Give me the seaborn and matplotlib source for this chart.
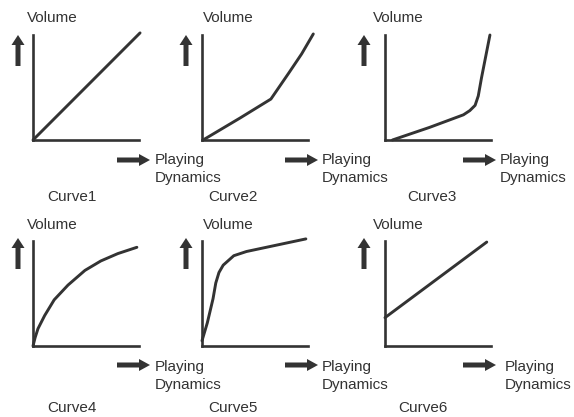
import matplotlib
matplotlib.use('Agg')
import matplotlib.pyplot as plt
import matplotlib.transforms as mtransforms
from matplotlib.patches import FancyArrow
import seaborn as sns
import pandas as pd

sns.set_theme(style='white')
plt.rcParams['font.family'] = ['Liberation Sans', 'DejaVu Sans']

# Curve data, normalised to the axis box (0..1)
curve_names = ['Curve1', 'Curve2', 'Curve3', 'Curve4', 'Curve5', 'Curve6']
curve1_x = [0.0, 1.01]
curve1_y = [0.0, 1.02]
curve2_x = [0.01, 0.36, 0.65, 0.82, 0.94, 1.05]
curve2_y = [0.0, 0.21, 0.39, 0.64, 0.82, 1.01]
curve3_x = [0.07, 0.42, 0.74, 0.80, 0.85, 0.88, 0.91, 0.99]
curve3_y = [0.0, 0.12, 0.24, 0.28, 0.33, 0.42, 0.59, 1.0]
curve4_x = [0.0, 0.02, 0.047, 0.11, 0.2, 0.33, 0.49, 0.64, 0.8, 0.98]
curve4_y = [0.0, 0.08, 0.165, 0.29, 0.44, 0.58, 0.72, 0.81, 0.88, 0.94]
curve5_x = [0.0, 0.05, 0.104, 0.13, 0.16, 0.2, 0.3, 0.42, 0.98]
curve5_y = [0.05, 0.22, 0.45, 0.60, 0.70, 0.77, 0.86, 0.90, 1.02]
curve6_x = [0.0, 0.96]
curve6_y = [0.27, 0.99]
curves_x = [curve1_x, curve2_x, curve3_x, curve4_x, curve5_x, curve6_x]
curves_y = [curve1_y, curve2_y, curve3_y, curve4_y, curve5_y, curve6_y]

y_label = 'Volume'
x_label = 'Playing\nDynamics'

# Layout (pixels, image coordinates with y down)
W, H = 574, 417
ink = '#333333'
col_left = [33, 202, 385]
row_top = [35, 241]
box_w, box_h = 106, 105
up_arrow_x = [18, 186, 364]
up_arrow_tip = [35, 238]
right_arrow_tail = [117, 285, 463]
right_arrow_y = [160, 365]
volume_x = [27, 203, 373]
volume_y = [18, 225]
playing_x = [[155, 322, 500], [155, 322, 505]]
playing_y = [169, 376]
caption_x = [[72, 233, 432], [72, 233, 423]]
caption_y = [197, 408]

fig = plt.figure(figsize=(W / 100, H / 100), dpi=100)
px = mtransforms.Affine2D().scale(1 / 100) + fig.dpi_scale_trans


def fx(x):
    return x / W


def fy(y):
    return 1 - y / H


for i in range(6):
    r, c = divmod(i, 3)
    left, top = col_left[c], row_top[r]
    ax = fig.add_axes([fx(left), fy(top + box_h), box_w / W, box_h / H])
    df = pd.DataFrame({'x': curves_x[i], 'y': curves_y[i]})
    sns.lineplot(data=df, x='x', y='y', ax=ax, sort=False, estimator=None,
                 color=ink, linewidth=2.1)
    for line in ax.lines:
        line.set_clip_on(False)
        line.set_solid_joinstyle('round')
    ax.set_xlim(0, 1)
    ax.set_ylim(0, 1)
    ax.set_xticks([])
    ax.set_yticks([])
    ax.set_xlabel('')
    ax.set_ylabel('')
    ax.patch.set_alpha(0)
    for side in ['top', 'right']:
        ax.spines[side].set_visible(False)
    for side in ['left', 'bottom']:
        ax.spines[side].set_color(ink)
        ax.spines[side].set_linewidth(1.9)

    # up arrow (Volume)
    tip = up_arrow_tip[r]
    fig.add_artist(FancyArrow(up_arrow_x[c], H - (tip + 31), 0, 31,
                              width=5, head_width=13, head_length=10,
                              length_includes_head=True, transform=px,
                              color=ink, linewidth=0))
    # right arrow (Playing Dynamics)
    ya = H - right_arrow_y[r]
    fig.add_artist(FancyArrow(right_arrow_tail[c], ya, 33, 0,
                              width=5, head_width=12, head_length=11,
                              length_includes_head=True, transform=px,
                              color=ink, linewidth=0))

    fig.text(fx(volume_x[c]), fy(volume_y[r]), y_label, fontsize=11,
             color=ink, ha='left', va='center')
    fig.text(fx(playing_x[r][c]), fy(playing_y[r]), x_label, fontsize=11,
             color=ink, ha='left', va='center', linespacing=1.3)
    fig.text(fx(caption_x[r][c]), fy(caption_y[r]), curve_names[i],
             fontsize=11, color=ink, ha='center', va='center')

plt.savefig('out.png', dpi=100)
